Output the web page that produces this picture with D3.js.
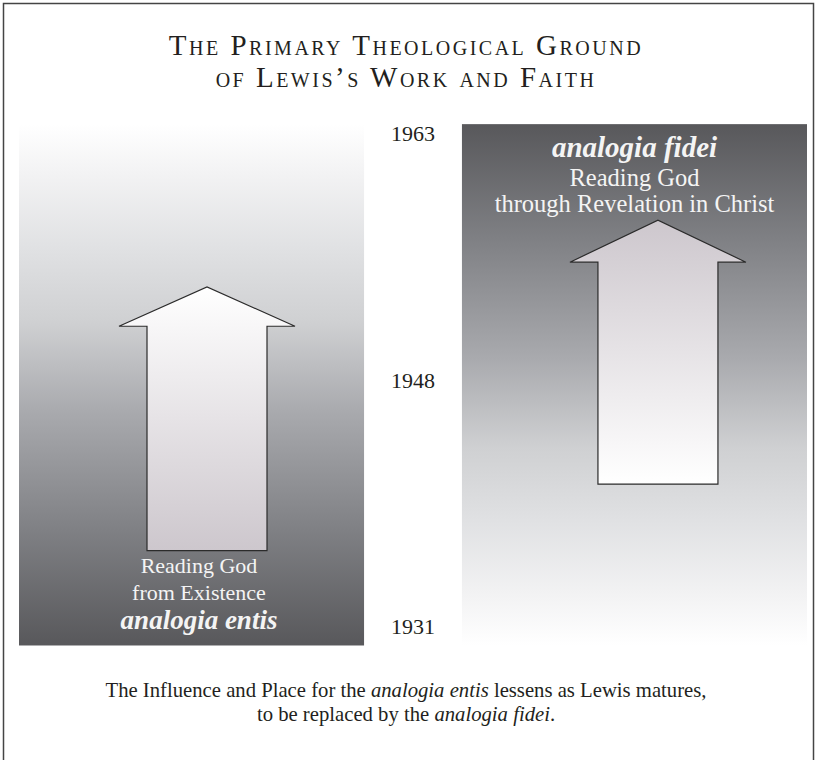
<!DOCTYPE html>
<html>
<head>
<meta charset="utf-8">
<script src="https://cdn.jsdelivr.net/npm/d3@7"></script>
<style>
  body { margin: 0; background: #fff; }
  svg { display: block; font-family: "Liberation Serif", "Times New Roman", serif; }
</style>
</head>
<body>
<svg id="chart" width="817" height="760"></svg>
<script>
var titleLines = ["The Primary Theological Ground", "of Lewis\u2019s Work and Faith"];
var yearLabels = ["1931", "1948", "1963"];
var panelNames = ["entis", "fidei"];
// arrow extents in tick units (0 = 1931, 1 = 1948, 2 = 1963)
var arrowFrom = [0.31, 0.58];
var arrowHeadBase = [1.22, 1.48];
var arrowTip = [1.38, 1.65];
var panelText = [
  [["Reading God", false], ["from Existence", false], ["analogia entis", true]],
  [["analogia fidei", true], ["Reading God", false], ["through Revelation in Christ", false]]
];
var captionLines = [
  [["The Influence and Place for the ", false], ["analogia entis", true], [" lessens as Lewis matures,", false]],
  [["to be replaced by the ", false], ["analogia fidei", true], [".", false]]
];

var svg = d3.select("#chart");
var defs = svg.append("defs");

// years are evenly spaced, not to scale
var y = d3.scaleLinear().domain([0, 2]).range([627, 134]);
var x = d3.scaleBand().domain(panelNames).range([19, 807]).paddingInner(0.221).paddingOuter(0);

var greyStops = [
  [0, "#58585b"], [0.22, "#7f8084"], [0.45, "#a9aaae"], [0.62, "#cfd0d2"],
  [0.76, "#e0e1e3"], [0.9, "#f2f2f3"], [1, "#ffffff"]
];
function addGradient(id, stops, flip) {
  var g = defs.append("linearGradient").attr("id", id)
    .attr("x1", 0).attr("y1", flip ? 1 : 0).attr("x2", 0).attr("y2", flip ? 0 : 1);
  stops.forEach(function(s) {
    g.append("stop").attr("offset", s[0]).attr("stop-color", s[1]);
  });
}
addGradient("bg-fidei", greyStops, false);
addGradient("bg-entis", greyStops, true);
addGradient("ar-fidei", [[0, "#cdc7cd"], [1, "#ffffff"]], false);
addGradient("ar-entis", [[0, "#cdc7cd"], [1, "#ffffff"]], true);

// frame
svg.append("rect")
  .attr("x", 3.5).attr("y", 3.5).attr("width", 810).attr("height", 800)
  .attr("fill", "none").attr("stroke", "#444").attr("stroke-width", 1.5);

// title
svg.append("g").selectAll("text").data(titleLines).join("text")
  .attr("x", 406).attr("y", function(d, i) { return 54.5 + i * 32.5; })
  .attr("text-anchor", "middle")
  .style("font-variant", "small-caps")
  .style("font-size", "29px")
  .style("letter-spacing", "2.5px")
  .attr("fill", "#231f20")
  .text(function(d) { return d; });

// panels
var panelTop = y(2.04), panelBottom = y(-0.075);
svg.append("g").selectAll("rect").data(panelNames).join("rect")
  .attr("x", function(d) { return x(d); })
  .attr("y", panelTop)
  .attr("width", x.bandwidth())
  .attr("height", panelBottom - panelTop)
  .attr("fill", function(d) { return "url(#bg-" + d + ")"; });

// year labels
svg.append("g").selectAll("text").data(yearLabels).join("text")
  .attr("x", 413).attr("y", function(d, i) { return y(i) + 7; })
  .attr("text-anchor", "middle")
  .style("font-size", "22px")
  .attr("fill", "#231f20")
  .text(function(d) { return d; });

// arrows
var arrowShift = [188, 196];
var headHalf = 88, shaftHalf = 60;
svg.append("g").selectAll("path").data(panelNames).join("path")
  .attr("d", function(d, i) {
    var cx = x(d) + arrowShift[i];
    var p = d3.path();
    p.moveTo(cx - shaftHalf, y(arrowFrom[i]));
    p.lineTo(cx - shaftHalf, y(arrowHeadBase[i]));
    p.lineTo(cx - headHalf, y(arrowHeadBase[i]));
    p.lineTo(cx, y(arrowTip[i]));
    p.lineTo(cx + headHalf, y(arrowHeadBase[i]));
    p.lineTo(cx + shaftHalf, y(arrowHeadBase[i]));
    p.lineTo(cx + shaftHalf, y(arrowFrom[i]));
    p.closePath();
    return p.toString();
  })
  .attr("fill", function(d) { return "url(#ar-" + d + ")"; })
  .attr("stroke", "#2b2b2b")
  .attr("stroke-width", 1.2);

// panel labels
var labelX = [199, 634.5];
var labelLineY = [[573, 599.5, 628.5], [157, 185.5, 211.5]];
var plainSize = [22, 24.5], italicSize = [27, 29];
panelNames.forEach(function(name, i) {
  svg.append("g").selectAll("text").data(panelText[i]).join("text")
    .attr("x", labelX[i])
    .attr("y", function(d, j) { return labelLineY[i][j]; })
    .attr("text-anchor", "middle")
    .attr("fill", "#f4f4f4")
    .style("font-size", function(d) { return (d[1] ? italicSize[i] : plainSize[i]) + "px"; })
    .style("font-style", function(d) { return d[1] ? "italic" : "normal"; })
    .style("font-weight", function(d) { return d[1] ? "bold" : "normal"; })
    .text(function(d) { return d[0]; });
});

// caption
var caption = svg.append("g").selectAll("text").data(captionLines).join("text")
  .attr("x", 406).attr("y", function(d, i) { return 697 + i * 24; })
  .attr("text-anchor", "middle")
  .style("font-size", "20.7px")
  .attr("fill", "#231f20");
caption.selectAll("tspan").data(function(d) { return d; }).join("tspan")
  .style("font-style", function(d) { return d[1] ? "italic" : "normal"; })
  .text(function(d) { return d[0]; });
</script>
</body>
</html>
